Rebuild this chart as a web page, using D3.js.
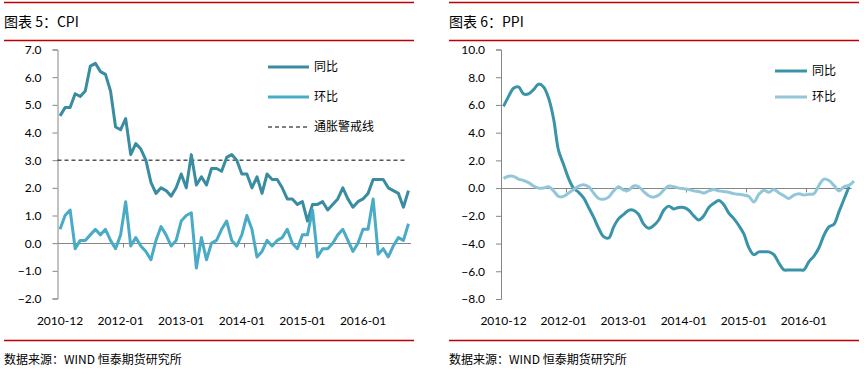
<!DOCTYPE html>
<html>
<head>
<meta charset="utf-8">
<script src="https://cdn.jsdelivr.net/npm/d3@7"></script>
<style>
  body { margin: 0; background: #fff; }
  svg { display: block; }
  .cjk { font-family: "Noto Sans CJK SC", sans-serif; }
  .num { font-family: Lato, "Open Sans", sans-serif; font-size: 12px; fill: #000; }
</style>
</head>
<body>
<script>
// months 2010-12 .. 2016-09 (70 points)
var startMonth = new Date(2010, 11, 1)
var nMonths = 70

var xTickLabels = ['2010-12', '2012-01', '2013-01', '2014-01', '2015-01', '2016-01']

// CPI 同比
var cpiYoy = [4.6,
  4.9, 4.9, 5.4, 5.3, 5.5, 6.4, 6.5, 6.2, 6.1, 5.5, 4.2, 4.1,
  4.5, 3.2, 3.6, 3.4, 3.0, 2.2, 1.8, 2.0, 1.9, 1.7, 2.0, 2.5,
  2.0, 3.2, 2.1, 2.4, 2.1, 2.7, 2.7, 2.6, 3.1, 3.2, 3.0, 2.5,
  2.5, 2.0, 2.4, 1.8, 2.5, 2.3, 2.3, 2.0, 1.6, 1.6, 1.4, 1.5,
  0.8, 1.4, 1.4, 1.5, 1.2, 1.4, 1.6, 2.0, 1.6, 1.3, 1.5, 1.6,
  1.8, 2.3, 2.3, 2.3, 2.0, 1.9, 1.8, 1.3, 1.9]

// CPI 环比
var cpiMom = [0.5,
  1.0, 1.2, -0.2, 0.1, 0.1, 0.3, 0.5, 0.3, 0.5, 0.1, -0.2, 0.3,
  1.5, -0.1, 0.2, -0.1, -0.3, -0.6, 0.1, 0.6, 0.3, -0.1, 0.1, 0.8,
  1.0, 1.1, -0.9, 0.2, -0.6, 0.0, 0.1, 0.5, 0.8, 0.1, -0.1, 0.3,
  1.0, 0.5, -0.5, -0.3, 0.1, -0.1, 0.1, 0.2, 0.5, 0.0, -0.2, 0.3,
  0.3, 1.2, -0.5, -0.2, -0.2, 0.0, 0.3, 0.5, 0.1, -0.3, 0.0, 0.5,
  0.5, 1.6, -0.4, -0.2, -0.5, -0.1, 0.2, 0.1, 0.7]

var cpiAlert = 3.0

// PPI 同比
var ppiYoy = [5.9,
  6.6, 7.2, 7.3, 6.8, 6.8, 7.1, 7.5, 7.3, 6.5, 5.0, 2.7, 1.7,
  0.7, 0.0, -0.3, -0.7, -1.4, -2.1, -2.9, -3.5, -3.6, -2.8, -2.2, -1.9,
  -1.6, -1.6, -1.9, -2.6, -2.9, -2.7, -2.3, -1.6, -1.3, -1.5, -1.4, -1.4,
  -1.6, -2.0, -2.3, -2.0, -1.4, -1.1, -0.9, -1.2, -1.8, -2.2, -2.7, -3.3,
  -4.3, -4.8, -4.6, -4.6, -4.6, -4.8, -5.4, -5.9, -5.9, -5.9, -5.9, -5.9,
  -5.3, -4.9, -4.3, -3.4, -2.8, -2.6, -1.7, -0.8, 0.1]

// PPI 环比
var ppiMom = [0.7,
  0.85, 0.85, 0.65, 0.55, 0.4, 0.15, 0.0, 0.0, 0.1, -0.2, -0.6, -0.6,
  -0.35, -0.1, 0.15, 0.25, 0.1, -0.35, -0.75, -0.8, -0.65, -0.2, 0.1, -0.15,
  -0.15, 0.15, 0.1, -0.25, -0.55, -0.65, -0.5, -0.15, 0.15, 0.1, 0.0, -0.05,
  -0.1, -0.2, -0.25, -0.35, -0.2, -0.1, -0.2, -0.25, -0.3, -0.4, -0.45, -0.5,
  -0.6, -1.0, -0.45, -0.15, -0.3, -0.1, -0.35, -0.55, -0.75, -0.5, -0.4, -0.5,
  -0.45, -0.4, 0.2, 0.65, 0.55, 0.2, -0.2, 0.1, 0.2, 0.5]

var months = d3.timeMonth.range(startMonth, d3.timeMonth.offset(startMonth, nMonths))

var svg = d3.select('body').append('svg')
    .attr('width', 864)
    .attr('height', 375)

var red = '#c00000'

function panel(opt) {
  var g = svg.append('g')

  // header / footer rules
  ;[2, 40, 340].forEach(function(y) {
    g.append('line')
      .attr('x1', opt.left).attr('x2', opt.left + 410)
      .attr('y1', y + 0.5).attr('y2', y + 0.5)
      .attr('stroke', red).attr('stroke-width', 1.5)
  })

  g.append('text')
      .attr('class', 'cjk')
      .attr('x', opt.left).attr('y', 27)
      .style('font-size', '14px')
      .text(opt.title)

  g.append('text')
      .attr('class', 'cjk')
      .attr('x', opt.left).attr('y', 364)
      .style('font-size', '12px')
      .text('数据来源：WIND 恒泰期货研究所')

  var x = d3.scaleLinear().domain([0, nMonths]).range(opt.xRange)
  var y = d3.scaleLinear().domain(opt.yDomain).range(opt.yRange)

  // y axis
  var yAxis = g.append('g')
      .attr('transform', 'translate(' + opt.xRange[0] + ',0)')
      .call(d3.axisLeft(y).tickValues(opt.yTicks).tickSize(5).tickPadding(11).tickFormat(d3.format('.1f')))
  yAxis.select('.domain').attr('stroke', '#868686')
  yAxis.selectAll('.tick line').attr('stroke', '#868686')
  yAxis.selectAll('.tick text').attr('class', 'num').attr('font-family', null).attr('font-size', null)

  // x axis on the zero line
  var y0 = Math.round(y(0)) + 0.5
  g.append('line')
      .attr('x1', opt.xRange[0]).attr('x2', opt.xRange[1])
      .attr('y1', y0).attr('y2', y0)
      .attr('stroke', '#868686')

  var labelIdx = xTickLabels.map(function(d, i) { return i * 12 })
  g.selectAll('.xtick')
    .data(labelIdx.slice(1))
    .enter().append('line')
      .attr('x1', function(d) { return Math.round(x(d + 1)) + 0.5 })
      .attr('x2', function(d) { return Math.round(x(d + 1)) + 0.5 })
      .attr('y1', y0).attr('y2', y0 + 4)
      .attr('stroke', '#868686')

  g.selectAll('.xlab')
    .data(labelIdx)
    .enter().append('text')
      .attr('class', 'num')
      .attr('x', function(d) { return x(d + 0.5) })
      .attr('y', 325)
      .attr('text-anchor', 'middle')
      .text(function(d, i) { return xTickLabels[i] })

  if (opt.alert != null) {
    g.append('line')
      .attr('x1', opt.xRange[0]).attr('x2', opt.xRange[1] - 4)
      .attr('y1', y(opt.alert)).attr('y2', y(opt.alert))
      .attr('stroke', '#000').attr('stroke-width', 1)
      .attr('stroke-dasharray', '4,3')
  }

  var line = d3.line()
      .x(function(d, i) { return x(i + 0.5) })
      .y(function(d) { return y(d) })
      .curve(opt.curve)

  opt.series.forEach(function(s) {
    g.append('path')
      .datum(s.values)
      .attr('d', line)
      .attr('fill', 'none')
      .attr('stroke', s.color)
      .attr('stroke-width', 3)
      .attr('stroke-linejoin', 'round')
  })

  // legend
  var leg = opt.legend
  leg.items.forEach(function(it, i) {
    var ly = leg.y + i * leg.step
    g.append('line')
      .attr('x1', leg.x).attr('x2', leg.x + leg.len)
      .attr('y1', ly).attr('y2', ly)
      .attr('stroke', it.color)
      .attr('stroke-width', it.dash ? 1 : 3)
      .attr('stroke-dasharray', it.dash ? '4,3' : null)
    g.append('text')
      .attr('class', 'cjk')
      .attr('x', leg.x + leg.len + 5).attr('y', ly + 4)
      .style('font-size', '12px')
      .text(it.name)
  })
}

panel({
  left: 4,
  title: '图表 5：CPI',
  xRange: [57.5, 411],
  yDomain: [-2, 7],
  yRange: [298.5, 49.5],
  yTicks: d3.range(-2, 7.5, 1),
  curve: d3.curveLinear,
  alert: cpiAlert,
  series: [
    { values: cpiYoy, color: '#3a8ca2' },
    { values: cpiMom, color: '#4aabc6' }
  ],
  legend: {
    x: 268, y: 67, step: 30, len: 41,
    items: [
      { name: '同比', color: '#3a8ca2' },
      { name: '环比', color: '#4aabc6' },
      { name: '通胀警戒线', color: '#000', dash: true }
    ]
  }
})

panel({
  left: 449,
  title: '图表 6：PPI',
  xRange: [501, 851.5],
  yDomain: [-8, 10],
  yRange: [299, 49.5],
  yTicks: d3.range(-8, 10.5, 2),
  curve: d3.curveCatmullRom.alpha(0.5),
  alert: null,
  series: [
    { values: ppiYoy, color: '#3a93a9' },
    { values: ppiMom, color: '#92c7d9' }
  ],
  legend: {
    x: 775, y: 71, step: 26, len: 32,
    items: [
      { name: '同比', color: '#3a93a9' },
      { name: '环比', color: '#92c7d9' }
    ]
  }
})
</script>
</body>
</html>
